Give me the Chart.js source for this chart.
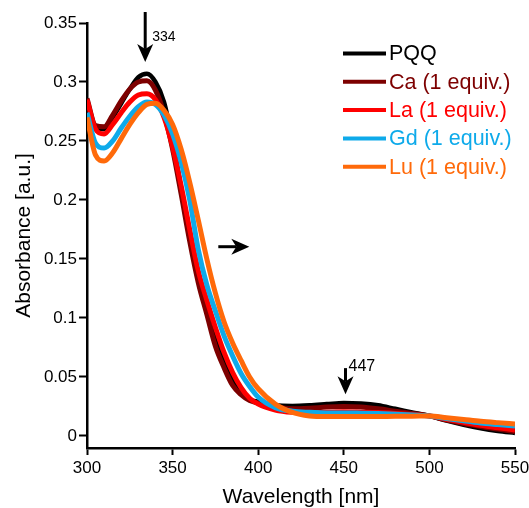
<!DOCTYPE html>
<html>
<head>
<meta charset="utf-8">
<script src="https://cdn.jsdelivr.net/npm/chart.js@4"></script>
<style>
  body { margin: 0; background: #fff; }
  canvas { display: block; }
</style>
</head>
<body>
<canvas id="spec" width="529" height="508"></canvas>
<script>
const wavelengths = [300, 305, 310, 315, 320, 325, 330, 335, 340, 345, 350, 355, 360, 365, 370, 375, 380, 385, 390, 395, 400, 410, 420, 430, 440, 450, 460, 470, 480, 490, 500, 510, 520, 530, 540, 550];
const pqq = [0.280, 0.261, 0.260, 0.270, 0.282, 0.294, 0.304, 0.307, 0.300, 0.283, 0.250, 0.210, 0.170, 0.135, 0.108, 0.082, 0.063, 0.047, 0.037, 0.031, 0.029, 0.026, 0.0255, 0.026, 0.027, 0.028, 0.0275, 0.026, 0.023, 0.020, 0.017, 0.013, 0.0095, 0.0065, 0.0042, 0.0025];
const ca = [0.286, 0.263, 0.262, 0.272, 0.284, 0.294, 0.300, 0.301, 0.293, 0.273, 0.243, 0.205, 0.165, 0.130, 0.103, 0.076, 0.058, 0.043, 0.035, 0.030, 0.028, 0.025, 0.023, 0.0235, 0.0245, 0.025, 0.0245, 0.023, 0.021, 0.019, 0.017, 0.0135, 0.0105, 0.008, 0.0058, 0.0037];
const la = [0.285, 0.260, 0.256, 0.264, 0.274, 0.283, 0.289, 0.290, 0.285, 0.270, 0.245, 0.212, 0.175, 0.140, 0.115, 0.092, 0.071, 0.054, 0.041, 0.032, 0.027, 0.022, 0.020, 0.0195, 0.020, 0.0205, 0.0202, 0.0198, 0.019, 0.018, 0.017, 0.0142, 0.0115, 0.009, 0.007, 0.005];
const gd = [0.274, 0.248, 0.244, 0.250, 0.261, 0.271, 0.279, 0.283, 0.281, 0.272, 0.256, 0.232, 0.200, 0.158, 0.128, 0.106, 0.085, 0.068, 0.053, 0.042, 0.033, 0.024, 0.021, 0.020, 0.0195, 0.0195, 0.0193, 0.019, 0.0185, 0.0178, 0.017, 0.0148, 0.0128, 0.011, 0.0097, 0.0085];
const lu = [0.270, 0.238, 0.233, 0.240, 0.252, 0.264, 0.274, 0.281, 0.282, 0.276, 0.264, 0.243, 0.215, 0.183, 0.150, 0.121, 0.097, 0.079, 0.064, 0.050, 0.040, 0.027, 0.020, 0.017, 0.0164, 0.0164, 0.0164, 0.0165, 0.0167, 0.0168, 0.017, 0.0155, 0.014, 0.0125, 0.0113, 0.0102];

const seriesNames = ["PQQ", "Ca (1 equiv.)", "La (1 equiv.)", "Gd (1 equiv.)", "Lu (1 equiv.)"];
const seriesColors = ["#000000", "#7d0000", "#ff0000", "#0eaaea", "#ff6a0a"];

const xTicks = [300, 350, 400, 450, 500, 550];
const yTicks = [0, 0.05, 0.1, 0.15, 0.2, 0.25, 0.3, 0.35];
const yTickLabels = ["0", "0.05", "0.1", "0.15", "0.2", "0.25", "0.3", "0.35"];

// arrows, start and end in data units, with an optional label
const arrows = [
  { from: [334, 0.3593], to: [334, 0.317], text: "334", size: 14, dx: 7, dy: 25 },
  { from: [451, 0.0575], to: [451, 0.0354], text: "447", size: 16, dx: 3, dy: -2 },
  { from: [376.7, 0.1604], to: [394.8, 0.1604], text: "", size: 0, dx: 0, dy: 0 },
];

const FONT = "'Liberation Sans', Arial, sans-serif";

function drawArrow(ctx, x1, y1, x2, y2) {
  const ang = Math.atan2(y2 - y1, x2 - x1);
  const len = 18, half = 8, notch = 5;
  ctx.save();
  ctx.translate(x2, y2);
  ctx.rotate(ang);
  const L = Math.hypot(x2 - x1, y2 - y1);
  ctx.strokeStyle = "#000";
  ctx.lineWidth = 3;
  ctx.beginPath();
  ctx.moveTo(-L, 0);
  ctx.lineTo(-len + notch, 0);
  ctx.stroke();
  ctx.fillStyle = "#000";
  ctx.beginPath();
  ctx.moveTo(0, 0);
  ctx.lineTo(-len, -half);
  ctx.lineTo(-len + notch, 0);
  ctx.lineTo(-len, half);
  ctx.closePath();
  ctx.fill();
  ctx.restore();
}

const extras = {
  id: "extras",
  afterDraw(chart) {
    const ctx = chart.ctx;
    const xs = chart.scales.x, ys = chart.scales.y;
    arrows.forEach((a) => {
      const x1 = xs.getPixelForValue(a.from[0]);
      const y1 = ys.getPixelForValue(a.from[1]);
      const x2 = xs.getPixelForValue(a.to[0]);
      const y2 = ys.getPixelForValue(a.to[1]);
      drawArrow(ctx, x1, y1, x2, y2);
      if (a.text) {
        ctx.save();
        ctx.font = a.size + "px " + FONT;
        ctx.fillStyle = "#000";
        ctx.textBaseline = "middle";
        ctx.textAlign = "left";
        ctx.fillText(a.text, x1 + a.dx, y1 + a.dy);
        ctx.restore();
      }
    });

    // legend in the top right corner
    ctx.save();
    ctx.font = "21.5px " + FONT;
    ctx.textBaseline = "middle";
    ctx.textAlign = "left";
    seriesNames.forEach((name, i) => {
      const y = 53.5 + i * 28.3;
      ctx.strokeStyle = seriesColors[i];
      ctx.lineWidth = 4;
      ctx.beginPath();
      ctx.moveTo(343, y);
      ctx.lineTo(386, y);
      ctx.stroke();
      ctx.fillStyle = seriesColors[i];
      ctx.fillText(name, 389, y + 1);
    });
    ctx.restore();
  },
};

const allSeries = [pqq, ca, la, gd, lu];

new Chart(document.getElementById("spec"), {
  type: "line",
  data: {
    labels: wavelengths,
    datasets: allSeries.map((vals, i) => ({
      label: seriesNames[i],
      data: vals.map((v, j) => ({ x: wavelengths[j], y: v })),
      borderColor: seriesColors[i],
      borderWidth: i === 0 ? 4.5 : 5,
      pointRadius: 0,
      cubicInterpolationMode: "monotone",
      fill: false,
      order: 5 - i,
    })),
  },
  options: {
    responsive: false,
    animation: false,
    devicePixelRatio: 1,
    layout: { padding: { top: 23, right: 14, left: 0, bottom: 0 } },
    plugins: { legend: { display: false }, tooltip: { enabled: false } },
    scales: {
      x: {
        type: "linear",
        min: 300,
        max: 550,
        afterBuildTicks: (s) => { s.ticks = xTicks.map((v) => ({ value: v })); },
        afterFit: (s) => { s.height = 60; s.paddingLeft = 0; s.paddingRight = 0; },
        ticks: { color: "#000", font: { size: 17, family: FONT }, padding: 3, maxRotation: 0, autoSkip: false },
        grid: { drawOnChartArea: false, drawTicks: true, tickLength: 7, tickWidth: 2, color: "#000" },
        border: { color: "#000", width: 2.5 },
        title: { display: true, text: "Wavelength [nm]", color: "#000", font: { size: 21, family: FONT, lineHeight: 1 }, padding: { top: 0, bottom: 0 } },
      },
      y: {
        min: -0.0102,
        max: 0.35,
        afterBuildTicks: (s) => { s.ticks = yTicks.map((v) => ({ value: v })); },
        afterFit: (s) => { s.width = 87; s.paddingTop = 0; s.paddingBottom = 0; },
        ticks: { color: "#000", font: { size: 17, family: FONT }, padding: 2, callback: (v, i) => yTickLabels[i] },
        grid: { drawOnChartArea: false, drawTicks: true, tickLength: 8, tickWidth: 2, color: "#000" },
        border: { color: "#000", width: 2.5 },
        title: { display: true, text: "Absorbance [a.u.]", color: "#000", font: { size: 21, family: FONT }, padding: { top: 12, bottom: 0 } },
      },
    },
  },
  plugins: [extras],
});
</script>
</body>
</html>
